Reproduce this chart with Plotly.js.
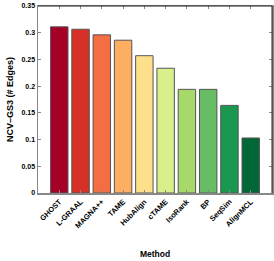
<!DOCTYPE html>
<html><head><meta charset="utf-8">
<script src="https://cdn.plot.ly/plotly-3.0.1.min.js"></script>
<style>html,body{margin:0;padding:0;background:#fff}#c{width:274px;height:261px}</style>
</head><body><div id="c"></div>
<script>
const methods = ["GHOST","L-GRAAL","MAGNA++","TAME","HubAlign","cTAME","IsoRank","BP","SeqSim","AlignMCL"];
const values = [0.311,0.3065,0.296,0.286,0.257,0.2335,0.194,0.194,0.164,0.103];
const colors = ["#a50026","#d73027","#f46d43","#fdae61","#fee08b","#d9ef8b","#a6d96a","#66bd63","#1a9850","#006837"];
const yTicks = [0,0.05,0.1,0.15,0.2,0.25,0.3,0.35];
const yTickText = ["0","0.05","0.1","0.15","0.2","0.25","0.3","0.35"];

const font = {family:"Liberation Sans, Arial, sans-serif", size:7, color:"#000"};
Plotly.newPlot("c",[{
  type:"bar", x:methods, y:values, width:0.82,
  marker:{color:colors, line:{color:"#555", width:1}},
  hoverinfo:"none"
}],{
  width:274, height:261,
  margin:{l:38,r:2,t:6,b:68},
  paper_bgcolor:"#fff", plot_bgcolor:"#fff",
  showlegend:false,
  font:font,
  xaxis:{
    range:[-1,10], tickangle:-45, ticks:"inside", ticklen:3, tickcolor:"#888",
    showline:true, linecolor:"#888", linewidth:1.5, mirror:"ticks", showgrid:false,
    tickfont:{family:"Liberation Sans, Arial, sans-serif", size:7.5, weight:"bold"},
    title:{text:"Method", font:{family:"Liberation Sans, Arial, sans-serif", size:8.5, weight:"bold"}, standoff:22}
  },
  yaxis:{
    range:[0,0.35], tickvals:yTicks, ticktext:yTickText, ticks:"inside", ticklen:3, tickcolor:"#888",
    showline:true, linecolor:"#888", linewidth:1.5, mirror:"ticks", showgrid:false, zeroline:false,
    tickfont:{family:"Liberation Sans, Arial, sans-serif", size:7, weight:"bold"},
    title:{text:"NCV\u2013GS3 (# Edges)", font:{family:"Liberation Sans, Arial, sans-serif", size:9, weight:"bold"}, standoff:6}
  },
  shapes:[
    {type:"line", xref:"paper", yref:"paper", x0:0, x1:1, y0:1, y1:1, line:{color:"#222", width:1}},
    {type:"line", xref:"paper", yref:"paper", x0:1, x1:1, y0:0, y1:1, line:{color:"#222", width:1}}
  ]
},{staticPlot:true, displayModeBar:false});
</script></body></html>
